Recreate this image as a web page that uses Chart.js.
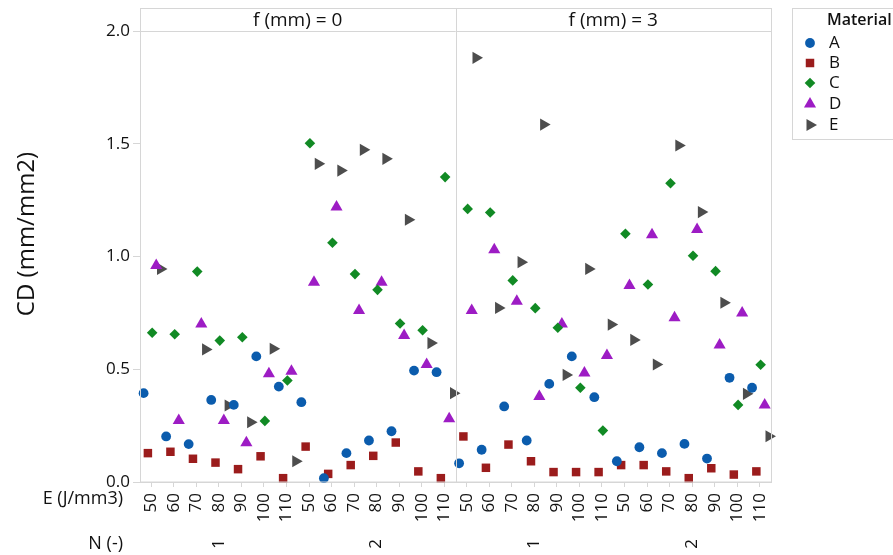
<!DOCTYPE html>
<html>
<head>
<meta charset="utf-8">
<script src="https://cdn.jsdelivr.net/npm/chart.js@4.4.1/dist/chart.umd.min.js"></script>
<style>
  html, body { margin: 0; padding: 0; background: #ffffff; }
  #wrap { width: 893px; height: 555px; position: relative; }
</style>
</head>
<body>
<div id="wrap"><canvas id="chart"></canvas></div>
<script>
// categories
const f_labels = ["0", "3"];
const n_labels = ["1", "2"];
const e_labels = ["50", "60", "70", "80", "90", "100", "110"];
const materials = ["A", "B", "C", "D", "E"];

// CD (mm/mm2) per material, in order f=0/N=1, f=0/N=2, f=3/N=1, f=3/N=2, each E 50..110
const cd_A = [0.394, 0.202, 0.168, 0.364, 0.342, 0.557, 0.423, 0.354, 0.017, 0.128, 0.184, 0.225, 0.494, 0.487,
              0.083, 0.143, 0.335, 0.184, 0.435, 0.557, 0.376, 0.092, 0.154, 0.128, 0.169, 0.104, 0.462, 0.418];
const cd_B = [0.128, 0.134, 0.103, 0.086, 0.057, 0.114, 0.017, 0.157, 0.036, 0.075, 0.116, 0.175, 0.047, 0.017,
              0.202, 0.063, 0.166, 0.092, 0.044, 0.044, 0.044, 0.075, 0.075, 0.047, 0.017, 0.061, 0.033, 0.047];
const cd_C = [0.662, 0.655, 0.933, 0.627, 0.642, 0.271, 0.450, 1.502, 1.061, 0.922, 0.852, 0.703, 0.673, 1.352,
              1.211, 1.195, 0.894, 0.771, 0.684, 0.418, 0.228, 1.101, 0.876, 1.325, 1.003, 0.935, 0.342, 0.520];
const cd_D = [0.960, 0.273, 0.701, 0.273, 0.174, 0.480, 0.491, 0.886, 1.219, 0.761, 0.886, 0.650, 0.521, 0.280,
              0.761, 1.030, 0.802, 0.379, 0.701, 0.483, 0.561, 0.871, 1.096, 0.728, 1.120, 0.608, 0.749, 0.342];
const cd_E = [0.945, null, 0.588, 0.339, 0.265, 0.591, 0.092, 1.411, 1.381, 1.473, 1.433, 1.163, 0.616, 0.394,
              1.881, 0.772, 0.975, 1.585, 0.475, 0.945, 0.698, 0.630, 0.521, 1.492, 1.197, 0.795, 0.391, 0.203];

const y_ticks = [0, 0.5, 1.0, 1.5, 2.0];

const series = [cd_A, cd_B, cd_C, cd_D, cd_E];
const colors = ["#0b5cad", "#9b1c1c", "#118a24", "#9d1cc4", "#4d4d4d"];
const styles = ["circle", "rect", "rectRot", "triangle", "triangle"];
const rotations = [0, 0, 0, 0, 90];
const radii = [4.9, 6, 5.3, 7, 7];
const dodge = [-0.34, -0.15, 0.04, 0.22, 0.41];

const n_cat = f_labels.length * n_labels.length * e_labels.length;
const FONT = "'Open Sans', 'Noto Sans', sans-serif";
const frame_color = "#d6d6d6";

const datasets = materials.map(function (m, k) {
  const pts = [];
  series[k].forEach(function (v, i) {
    if (v !== null) pts.push({ x: i + dodge[k], y: v });
  });
  return {
    label: m,
    data: pts,
    pointStyle: styles[k],
    rotation: rotations[k],
    pointRadius: radii[k],
    pointHoverRadius: radii[k],
    backgroundColor: colors[k],
    borderColor: colors[k],
    borderWidth: 0,
    showLine: false,
    clip: false,
  };
});

// panel frames, headers, row labels and legend
const decorPlugin = {
  id: "decor",
  afterDraw(chart) {
    const ctx = chart.ctx;
    const area = chart.chartArea;
    const xs = chart.scales.x;
    const per_panel = n_cat / f_labels.length;
    ctx.save();

    // frame + divider
    ctx.strokeStyle = frame_color;
    ctx.lineWidth = 1;
    const headTop = 8.5;
    ctx.strokeRect(area.left + 0.5, headTop, area.right - area.left, area.bottom - headTop);
    ctx.beginPath();
    ctx.moveTo(area.left, area.top + 0.5);
    ctx.lineTo(area.right, area.top + 0.5);
    for (let p = 1; p < f_labels.length; p++) {
      const xd = Math.round(xs.getPixelForValue(p * per_panel - 0.5)) + 0.5;
      ctx.moveTo(xd, headTop);
      ctx.lineTo(xd, area.bottom);
    }
    ctx.stroke();

    // header text
    ctx.fillStyle = "#111";
    ctx.font = "19px " + FONT;
    ctx.textAlign = "center";
    ctx.textBaseline = "middle";
    f_labels.forEach(function (f, p) {
      const x0 = xs.getPixelForValue(p * per_panel - 0.5);
      const x1 = xs.getPixelForValue((p + 1) * per_panel - 0.5);
      ctx.fillText("f (mm) = " + f, (x0 + x1) / 2, (headTop + area.top) / 2 + 1);
    });

    // y axis title
    ctx.save();
    ctx.font = "24px " + FONT;
    ctx.translate(27, 234);
    ctx.rotate(-Math.PI / 2);
    ctx.fillText("CD (mm/mm2)", 0, 0);
    ctx.restore();

    // row labels under the x axis
    ctx.font = "18px " + FONT;
    ctx.textAlign = "right";
    ctx.fillText("E (J/mm3)", 123, 499);
    ctx.fillText("N (-)", 123, 544);

    // N group labels, rotated
    ctx.font = "17px " + FONT;
    let g = 0;
    f_labels.forEach(function () {
      n_labels.forEach(function (n) {
        const mid = g * e_labels.length + (e_labels.length - 1) / 2;
        ctx.save();
        ctx.translate(xs.getPixelForValue(mid), 544);
        ctx.rotate(-Math.PI / 2);
        ctx.textAlign = "center";
        ctx.fillText(n, 0, 0);
        ctx.restore();
        g++;
      });
    });

    // legend
    ctx.strokeStyle = frame_color;
    ctx.strokeRect(792.5, 8.5, 120, 131);
    ctx.textAlign = "left";
    ctx.font = "600 16px " + FONT;
    ctx.fillText("Material", 827, 20);
    ctx.font = "17px " + FONT;
    const leg_y = [43, 63, 83, 104, 125];
    materials.forEach(function (m, k) {
      ctx.fillStyle = colors[k];
      Chart.helpers.drawPoint(ctx, {
        pointStyle: styles[k],
        rotation: rotations[k],
        radius: radii[k],
        borderWidth: 0,
      }, 810, leg_y[k]);
      ctx.fillStyle = "#111";
      ctx.fillText(m, 829, leg_y[k]);
    });
    ctx.restore();
  },
};

new Chart(document.getElementById("chart"), {
  type: "scatter",
  data: { datasets: datasets },
  options: {
    responsive: true,
    maintainAspectRatio: false,
    animation: false,
    events: [],
    layout: { padding: { top: 31, right: 122, left: 0, bottom: 0 } },
    plugins: {
      legend: { display: false },
      tooltip: { enabled: false },
    },
    scales: {
      x: {
        type: "linear",
        min: -0.5,
        max: n_cat - 0.5,
        afterBuildTicks: function (scale) {
          scale.ticks = [];
          for (let i = 0; i < n_cat; i++) scale.ticks.push({ value: i });
        },
        afterFit: function (scale) {
          scale.height = 73;
        },
        grid: { drawOnChartArea: false, tickLength: 5, color: frame_color },
        border: { color: frame_color },
        ticks: {
          autoSkip: false,
          minRotation: 90,
          maxRotation: 90,
          padding: 6,
          color: "#111",
          font: { family: FONT, size: 17 },
          callback: function (v) {
            return e_labels[v % e_labels.length];
          },
        },
      },
      y: {
        min: 0,
        max: 2.0,
        afterBuildTicks: function (scale) {
          scale.ticks = y_ticks.map(function (v) { return { value: v }; });
        },
        afterFit: function (scale) {
          scale.width = 140;
        },
        grid: { drawOnChartArea: false, tickLength: 7, color: frame_color },
        border: { color: frame_color },
        ticks: {
          padding: 3,
          color: "#111",
          font: { family: FONT, size: 17 },
          callback: function (v) {
            return v.toFixed(1);
          },
        },
      },
    },
  },
  plugins: [decorPlugin],
});
</script>
</body>
</html>
